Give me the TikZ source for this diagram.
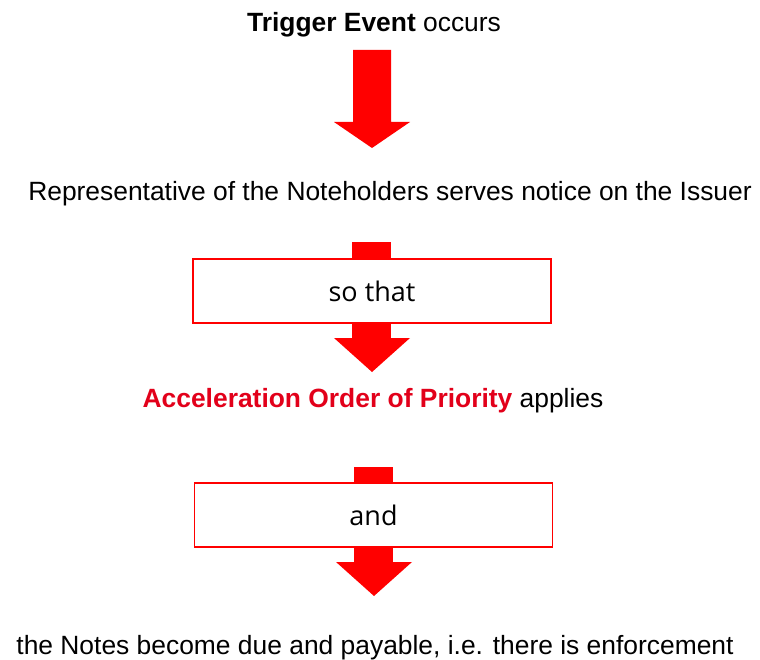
\documentclass[tikz,border=0pt]{standalone}
\usepackage{fontspec}
\setmainfont{Liberation Sans}
\newfontfamily\boxfont{Open Sans}
\definecolor{arrred}{HTML}{FF0000}
\definecolor{txtred}{HTML}{E2001A}
\tikzset{
  blockarrow/.style={fill=arrred, draw=none},
  label/.style={font=\fontsize{26.4}{30}\selectfont, inner sep=0pt, text=black},
  wordbox/.style={draw=arrred, line width=1.3pt, fill=white, minimum width=358pt, minimum height=64pt, inner sep=0pt, font=\boxfont\fontsize{27}{30}\selectfont},
}
\newcommand{\barrow}[5]{%
  \fill[blockarrow] (#1,#3) -- (#2,#3) -- (#2,#4) -- ({(#1+#2)/2+38},#4) -- ({(#1+#2)/2},#5) -- ({(#1+#2)/2-38},#4) -- (#1,#4) -- cycle;}
\begin{document}
\begin{tikzpicture}[x=1pt,y=-1pt]
\useasboundingbox (0,0) rectangle (760,660);
\node[label] (trig) at (374,25) {\textbf{Trigger Event} occurs};
\barrow{353}{391}{50}{122}{148}
\node[label] (rep) at (390,194) {Representative of the Noteholders serves notice on the Issuer};
\fill[blockarrow] (352,242) rectangle (391,262);
\fill[blockarrow] (352,320) rectangle (391,339);
\fill[blockarrow] (334,338) -- (410,338) -- (372,372) -- cycle;
\node[wordbox] (so) at (372,291) {so that};
\node[label] (acc) at (373,401) {\textcolor{txtred}{\textbf{Acceleration Order of Priority}} applies};
\fill[blockarrow] (354,467) rectangle (393,486);
\fill[blockarrow] (354,544) rectangle (393,563);
\fill[blockarrow] (336,562) -- (412,562) -- (374,596) -- cycle;
\node[wordbox] (and) at (373.5,515) {and};
\node[label] (notes) at (375,648) {the Notes become due and payable, i.e. there is enforcement};
\end{tikzpicture}
\end{document}
